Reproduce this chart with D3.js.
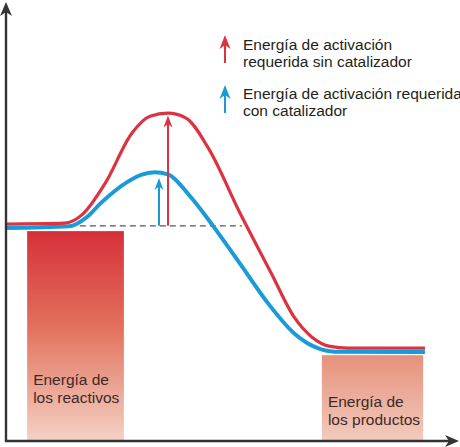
<!DOCTYPE html>
<html>
<head>
<meta charset="utf-8">
<script src="https://cdn.jsdelivr.net/npm/d3@7"></script>
<style>
	body { margin: 0; background: #fff; }
	svg { display: block; }
	text { font-family: "Liberation Sans", Arial, sans-serif; }
</style>
</head>
<body>
<svg id="chart" width="460" height="447"></svg>
<script>
// reaction progress (0-100) and energy (0-100)
var sinCatalizador = [
	[0,49.3],[13,49.5],[17,51.5],[22,58.5],[28,70],[32,73.8],[36,74.5],[40,73.4],
	[45,66.5],[52,51.8],[59,38],[64,28.2],[68,23.6],[72,21.5],[76,21.1],[93.1,21.1]
];
var conCatalizador = [
	[0,48.4],[14,48.8],[18,50.9],[21,54],[27,58.9],[30,60.5],[33,61.1],[36,60.6],
	[41,55.5],[46,48.9],[52,40.3],[58,31.6],[64,24.5],[69,21.2],[73,20.3],[93.1,20.2]
];
// bars: x start, x end, energy
var niveles = [
	{ id: 'reactivos', x0: 4.7, x1: 26.2, e: 47.7, labelY: 385, label: ['Energía de', 'los reactivos'] },
	{ id: 'productos', x0: 70.2, x1: 92.7, e: 19.5, labelY: 407, label: ['Energía de', 'los productos'] }
];
var energiaReactivos = 48.9;
var dashedRange = [16.4, 52.4];
// activation arrows: x, top energy
var flechas = [
	{ color: '#dc3340', x: 36.0, e: 74.0 },
	{ color: '#1a9bd7', x: 34.0, e: 59.8 }
];
var leyenda = [
	{ color: '#dc3340', top: 35, bottom: 63, textY: 50, lines: ['Energía de activación', 'requerida sin catalizador'] },
	{ color: '#1a9bd7', top: 85, bottom: 113, textY: 99, lines: ['Energía de activación requerida', 'con catalizador'] }
];

var svg = d3.select('#chart');
var x = d3.scaleLinear().domain([0, 100]).range([6, 456]);
var y = d3.scaleLinear().domain([0, 100]).range([441, 1]);

var defs = svg.append('defs');
var grads = {
	reactivos: [['0%', '#d6303a'], ['45%', '#e2705b'], ['100%', '#f4d2c6']],
	productos: [['0%', '#e5917b'], ['100%', '#f3cbbd']]
};
Object.keys(grads).forEach(function(k){
	var g = defs.append('linearGradient').attr('id', 'g-' + k)
		.attr('x1', 0).attr('y1', 0).attr('x2', 0).attr('y2', 1);
	grads[k].forEach(function(s){
		g.append('stop').attr('offset', s[0]).attr('stop-color', s[1]);
	});
});

// bars
var bars = svg.append('g');
bars.selectAll('rect')
	.data(niveles)
	.enter().append('rect')
	.attr('x', function(d){ return x(d.x0); })
	.attr('width', function(d){ return x(d.x1) - x(d.x0); })
	.attr('y', function(d){ return y(d.e); })
	.attr('height', function(d){ return y(0) - y(d.e); })
	.attr('fill', function(d){ return 'url(#g-' + d.id + ')'; });

bars.selectAll('text')
	.data(niveles)
	.enter().append('text')
	.attr('x', function(d){ return x(d.x0) + 6; })
	.attr('y', function(d){ return d.labelY; })
	.attr('font-size', 15.5)
	.attr('fill', '#3b2a28')
	.each(function(d){
		var t = d3.select(this);
		d.label.forEach(function(s, i){
			t.append('tspan').attr('x', x(d.x0) + 6).attr('dy', i ? 17.5 : 0).text(s);
		});
	});

// dashed reference level
svg.append('line')
	.attr('x1', x(dashedRange[0])).attr('x2', x(dashedRange[1]))
	.attr('y1', y(energiaReactivos)).attr('y2', y(energiaReactivos))
	.attr('stroke', '#555').attr('stroke-width', 1.2)
	.attr('stroke-dasharray', '6,4');

function arrowHead(g, cx, tipY, color, w, h){
	g.append('path')
		.attr('d', 'M' + cx + ',' + tipY +
			'L' + (cx + w / 2) + ',' + (tipY + h) +
			'L' + cx + ',' + (tipY + h * 0.72) +
			'L' + (cx - w / 2) + ',' + (tipY + h) + 'Z')
		.attr('fill', color);
}

// curves
var line = d3.line()
	.x(function(d){ return x(d[0]); })
	.y(function(d){ return y(d[1]); })
	.curve(d3.curveMonotoneX);

svg.append('path').datum(conCatalizador)
	.attr('d', line).attr('fill', 'none')
	.attr('stroke', '#1a9bd7').attr('stroke-width', 4);
svg.append('path').datum(sinCatalizador)
	.attr('d', line).attr('fill', 'none')
	.attr('stroke', '#dc3340').attr('stroke-width', 3.2);

// activation energy arrows
var fg = svg.append('g');
flechas.forEach(function(f){
	fg.append('line')
		.attr('x1', x(f.x)).attr('x2', x(f.x))
		.attr('y1', y(energiaReactivos)).attr('y2', y(f.e) + 6)
		.attr('stroke', f.color).attr('stroke-width', 2);
	arrowHead(fg, x(f.x), y(f.e), f.color, 9, 12);
});

// axes
var axis = svg.append('g').attr('stroke', '#333').attr('stroke-width', 2.4);
axis.append('line').attr('x1', x(0)).attr('x2', x(0)).attr('y1', y(0) + 1).attr('y2', 10);
axis.append('line').attr('x1', x(0) - 1).attr('x2', 452).attr('y1', y(0)).attr('y2', y(0));
svg.append('path')
	.attr('d', 'M' + x(0) + ',2L' + (x(0) + 6) + ',16L' + x(0) + ',12L' + (x(0) - 6) + ',16Z')
	.attr('fill', '#333');
svg.append('path')
	.attr('d', 'M459,' + y(0) + 'L445,' + (y(0) - 6) + 'L449,' + y(0) + 'L445,' + (y(0) + 6) + 'Z')
	.attr('fill', '#333');

// legend
var lg = svg.append('g');
leyenda.forEach(function(d){
	lg.append('line')
		.attr('x1', 225).attr('x2', 225)
		.attr('y1', d.top + 8).attr('y2', d.bottom)
		.attr('stroke', d.color).attr('stroke-width', 2);
	arrowHead(lg, 225, d.top, d.color, 11, 14);
	var t = lg.append('text')
		.attr('x', 243).attr('y', d.textY)
		.attr('font-size', 15.5).attr('fill', '#231f20');
	d.lines.forEach(function(s, j){
		t.append('tspan').attr('x', 243).attr('dy', j ? 16.5 : 0).text(s);
	});
});
</script>
</body>
</html>
